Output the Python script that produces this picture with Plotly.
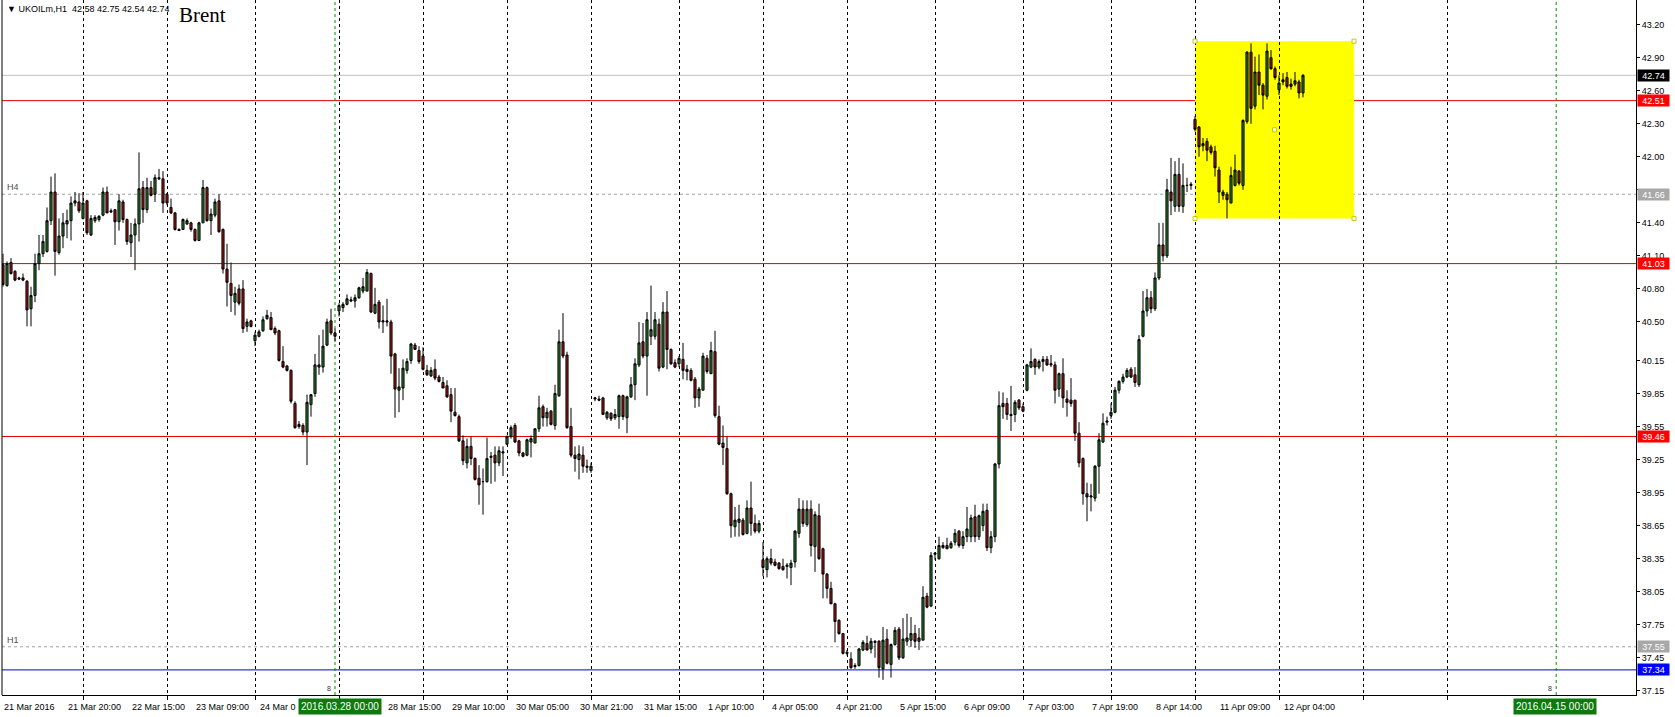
import plotly.graph_objects as go

# ---------------- data (UKOILm, H1) ----------------
opens = [
    41.02, 40.83, 41.04, 40.96, 40.90, 40.90, 40.87, 40.62, 40.74, 41.03,
    41.12, 41.14, 41.42, 41.68, 41.13, 41.28, 41.39, 41.42, 41.58, 41.59,
    41.44, 41.60, 41.29, 41.42, 41.43, 41.47, 41.68, 41.51, 41.52, 41.41,
    41.59, 41.43, 41.22, 41.29, 41.39, 41.72, 41.52, 41.72, 41.66, 41.81,
    41.80, 41.66, 41.54, 41.49, 41.34, 41.34, 41.39, 41.40, 41.34, 41.24,
    41.40, 41.72, 41.42, 41.47, 41.60, 41.34, 40.98, 40.85, 40.68, 40.80,
    40.80, 40.46, 40.51, 40.33, 40.37, 40.42, 40.53, 40.54, 40.44, 40.42,
    40.14, 40.10, 40.06, 39.76, 39.57, 39.56, 39.50, 39.75, 39.85, 40.09,
    40.09, 40.29, 40.51, 40.40, 40.60, 40.63, 40.66, 40.69, 40.69, 40.72,
    40.78, 40.78, 40.94, 40.58, 40.68, 40.50, 40.51, 40.50, 40.21, 39.88,
    39.90, 40.06, 40.15, 40.29, 40.24, 40.19, 40.06, 40.01, 40.07, 40.00,
    39.95, 39.92, 39.84, 39.68, 39.64, 39.42, 39.22, 39.37, 39.26, 39.08,
    39.05, 39.05, 39.27, 39.29, 39.22, 39.31, 39.39, 39.46, 39.56, 39.42,
    39.31, 39.29, 39.41, 39.40, 39.53, 39.73, 39.63, 39.69, 39.56, 39.83,
    40.32, 40.20, 39.55, 39.29, 39.25, 39.29, 39.19, 39.15, 39.80, 39.80,
    39.81, 39.63, 39.67, 39.63, 39.64, 39.83, 39.63, 39.82, 39.93, 40.11,
    40.32, 40.19, 40.37, 40.37, 40.48, 40.09, 40.59, 40.25, 40.13, 40.12,
    40.16, 40.07, 40.06, 39.98, 39.81, 39.88, 40.17, 40.03, 40.23, 39.64,
    39.40, 39.35, 38.94, 38.64, 38.68, 38.70, 38.58, 38.81, 38.67, 38.60,
    38.34, 38.25, 38.35, 38.32, 38.31, 38.28, 38.28, 38.27, 38.32, 38.58,
    38.80, 38.66, 38.80, 38.46, 38.74, 38.44, 38.21, 38.08, 37.94, 37.79,
    37.67, 37.50, 37.44, 37.38, 37.38, 37.52, 37.58, 37.53, 37.60, 37.60,
    37.35, 37.62, 37.39, 37.57, 37.71, 37.45, 37.60, 37.61, 37.67, 37.60,
    37.61, 38.01, 37.92, 38.39, 38.35, 38.45, 38.47, 38.45, 38.50, 38.60,
    38.47, 38.55, 38.55, 38.73, 38.55, 38.65, 38.79, 38.45, 38.55, 39.21,
    39.76, 39.76, 39.66, 39.66, 39.79, 39.73, 39.88, 40.09, 40.16, 40.09,
    40.14, 40.16, 40.11, 40.11, 39.89, 40.03, 39.80, 39.79, 39.79, 39.49,
    39.26, 38.94, 38.91, 38.90, 39.19, 39.41, 39.59, 39.65, 39.68, 39.88,
    39.96, 40.00, 40.07, 40.02, 39.93, 40.37, 40.60, 40.72, 40.62, 40.90,
    41.20, 41.10, 41.68, 41.55, 41.84, 41.55, 41.74, 41.74, 42.34, 42.27,
    42.10, 42.14, 42.09, 42.05, 41.88, 41.65, 41.66, 41.58, 41.74, 41.87,
    41.74, 42.32, 42.95, 42.46, 42.77, 42.65, 42.55, 42.90, 42.80, 42.61,
    42.68, 42.72, 42.66, 42.66, 42.68, 42.58,
]
highs = [
    41.12, 41.05, 41.08, 40.97, 40.91, 40.94, 40.88, 40.82, 41.12, 41.29,
    41.29, 41.54, 41.82, 41.85, 41.44, 41.49, 41.52, 41.64, 41.68, 41.67,
    41.68, 41.61, 41.47, 41.47, 41.47, 41.72, 41.73, 41.53, 41.52, 41.66,
    41.61, 41.44, 41.40, 41.44, 42.04, 41.78, 41.81, 41.78, 41.84, 41.89,
    41.87, 41.67, 41.62, 41.50, 41.35, 41.44, 41.44, 41.41, 41.35, 41.41,
    41.79, 41.73, 41.53, 41.62, 41.66, 41.35, 41.21, 41.04, 40.82, 40.84,
    40.88, 40.53, 40.52, 40.41, 40.43, 40.55, 40.61, 40.59, 40.46, 40.43,
    40.28, 40.11, 40.07, 39.78, 39.60, 39.58, 39.84, 39.84, 40.21, 40.38,
    40.43, 40.53, 40.62, 40.44, 40.67, 40.68, 40.75, 40.73, 40.75, 40.82,
    40.90, 40.98, 40.95, 40.81, 40.70, 40.65, 40.71, 40.52, 40.22, 40.08,
    40.16, 40.17, 40.31, 40.31, 40.28, 40.27, 40.11, 40.09, 40.16, 40.02,
    40.00, 39.97, 39.90, 39.90, 39.66, 39.47, 39.44, 39.46, 39.27, 39.20,
    39.17, 39.45, 39.32, 39.37, 39.37, 39.37, 39.47, 39.56, 39.58, 39.43,
    39.32, 39.44, 39.47, 39.53, 39.83, 39.75, 39.72, 39.70, 39.93, 40.43,
    40.58, 40.23, 39.72, 39.37, 39.38, 39.37, 39.25, 39.22, 39.82, 39.83,
    39.82, 39.69, 39.68, 39.71, 39.84, 39.84, 39.83, 40.00, 40.17, 40.50,
    40.49, 40.59, 40.83, 40.59, 40.53, 40.68, 40.78, 40.26, 40.16, 40.19,
    40.31, 40.11, 40.08, 40.00, 39.91, 40.22, 40.20, 40.32, 40.42, 39.74,
    39.56, 39.46, 38.95, 38.82, 38.84, 38.72, 38.88, 39.05, 38.75, 38.70,
    38.50, 38.37, 38.44, 38.35, 38.32, 38.35, 38.31, 38.34, 38.61, 38.90,
    38.88, 38.88, 38.88, 38.78, 38.85, 38.45, 38.22, 38.14, 37.95, 37.80,
    37.67, 37.52, 37.50, 37.40, 37.54, 37.61, 37.65, 37.63, 37.61, 37.61,
    37.73, 37.71, 37.58, 37.73, 37.73, 37.81, 37.85, 37.82, 37.75, 37.72,
    38.10, 38.04, 38.41, 38.41, 38.55, 38.50, 38.54, 38.51, 38.62, 38.61,
    38.60, 38.82, 38.75, 38.84, 38.75, 38.85, 38.85, 38.60, 39.22, 39.87,
    39.86, 39.81, 39.92, 39.79, 39.80, 39.76, 40.12, 40.26, 40.17, 40.16,
    40.19, 40.19, 40.20, 40.14, 40.04, 40.17, 39.88, 39.99, 39.79, 39.59,
    39.27, 39.04, 39.03, 39.20, 39.49, 39.67, 39.64, 39.76, 39.91, 39.97,
    40.03, 40.08, 40.09, 40.09, 40.38, 40.78, 40.80, 40.78, 40.95, 41.40,
    41.40, 41.80, 41.99, 41.96, 41.99, 41.94, 41.81, 41.77, 42.37, 42.28,
    42.17, 42.17, 42.11, 42.10, 41.91, 41.70, 41.68, 41.91, 42.02, 41.88,
    42.34, 42.96, 43.03, 42.91, 42.93, 42.67, 43.03, 42.97, 42.82, 42.74,
    42.76, 42.77, 42.71, 42.77, 42.70, 42.75,
]
lows = [
    40.82, 40.82, 40.93, 40.87, 40.88, 40.87, 40.46, 40.46, 40.68, 40.97,
    41.09, 41.13, 41.38, 40.92, 41.11, 41.17, 41.26, 41.24, 41.55, 41.49,
    41.43, 41.29, 41.28, 41.40, 41.41, 41.46, 41.49, 41.49, 41.20, 41.33,
    41.40, 41.20, 41.09, 40.97, 41.23, 41.40, 41.49, 41.64, 41.59, 41.79,
    41.49, 41.56, 41.48, 41.33, 41.33, 41.34, 41.38, 41.32, 41.23, 41.24,
    41.40, 41.41, 41.29, 41.45, 41.31, 40.94, 40.64, 40.59, 40.56, 40.65,
    40.40, 40.41, 40.45, 40.28, 40.36, 40.41, 40.52, 40.43, 40.38, 40.14,
    40.08, 40.05, 39.76, 39.53, 39.53, 39.47, 39.20, 39.64, 39.82, 40.02,
    40.04, 40.28, 40.38, 40.32, 40.55, 40.59, 40.65, 40.68, 40.63, 40.71,
    40.76, 40.78, 40.58, 40.57, 40.44, 40.40, 40.46, 40.03, 39.63, 39.68,
    39.79, 40.03, 40.12, 40.25, 40.12, 40.06, 40.01, 40.00, 39.97, 39.95,
    39.90, 39.81, 39.59, 39.64, 39.41, 39.20, 39.17, 39.20, 39.06, 38.84,
    38.75, 39.04, 39.03, 39.05, 39.19, 39.10, 39.38, 39.44, 39.40, 39.28,
    39.27, 39.28, 39.27, 39.40, 39.50, 39.55, 39.55, 39.56, 39.52, 39.82,
    40.17, 39.53, 39.27, 39.14, 39.07, 39.13, 39.13, 39.13, 39.78, 39.78,
    39.66, 39.61, 39.60, 39.61, 39.53, 39.61, 39.49, 39.81, 39.79, 40.09,
    40.17, 39.83, 40.29, 40.34, 40.05, 40.08, 40.07, 40.11, 40.08, 40.09,
    39.98, 39.97, 39.96, 39.72, 39.73, 39.88, 40.03, 40.03, 39.63, 39.38,
    39.20, 38.93, 38.54, 38.55, 38.55, 38.56, 38.57, 38.56, 38.58, 38.58,
    38.19, 38.18, 38.29, 38.28, 38.25, 38.24, 38.17, 38.11, 38.27, 38.54,
    38.64, 38.64, 38.37, 38.23, 38.34, 37.99, 37.99, 37.94, 37.59, 37.66,
    37.48, 37.47, 37.35, 37.35, 37.37, 37.51, 37.52, 37.49, 37.45, 37.27,
    37.25, 37.39, 37.27, 37.56, 37.43, 37.44, 37.56, 37.55, 37.54, 37.52,
    37.61, 37.90, 37.91, 38.34, 38.34, 38.44, 38.44, 38.44, 38.47, 38.45,
    38.44, 38.50, 38.50, 38.50, 38.52, 38.60, 38.42, 38.40, 38.50, 39.17,
    39.62, 39.61, 39.51, 39.59, 39.70, 39.68, 39.87, 40.08, 40.02, 40.07,
    40.05, 40.10, 40.09, 39.76, 39.82, 39.72, 39.64, 39.73, 39.42, 39.18,
    38.84, 38.69, 38.78, 38.87, 38.94, 39.40, 39.56, 39.62, 39.67, 39.85,
    39.94, 39.99, 39.99, 39.91, 39.91, 40.36, 40.55, 40.58, 40.60, 40.88,
    41.05, 41.08, 41.47, 41.50, 41.50, 41.49, 41.68, 41.70, 42.23, 42.00,
    42.05, 41.96, 42.02, 41.82, 41.58, 41.61, 41.44, 41.58, 41.73, 41.74,
    41.70, 42.30, 42.30, 42.43, 42.56, 42.43, 42.52, 42.79, 42.70, 42.56,
    42.65, 42.62, 42.61, 42.64, 42.53, 42.54,
]
closes = [
    40.84, 41.03, 40.94, 40.88, 40.89, 40.88, 40.61, 40.74, 41.03, 41.12,
    41.23, 41.42, 41.68, 41.14, 41.28, 41.40, 41.42, 41.58, 41.60, 41.51,
    41.58, 41.31, 41.44, 41.45, 41.46, 41.68, 41.49, 41.50, 41.41, 41.60,
    41.43, 41.23, 41.29, 41.39, 41.71, 41.52, 41.72, 41.65, 41.81, 41.80,
    41.58, 41.58, 41.49, 41.34, 41.33, 41.43, 41.42, 41.34, 41.24, 41.40,
    41.72, 41.42, 41.48, 41.59, 41.32, 40.98, 40.86, 40.74, 40.76, 40.67,
    40.44, 40.50, 40.46, 40.38, 40.41, 40.52, 40.56, 40.43, 40.40, 40.15,
    40.09, 40.06, 39.78, 39.54, 39.55, 39.50, 39.77, 39.84, 40.11, 40.11,
    40.28, 40.50, 40.40, 40.37, 40.65, 40.66, 40.71, 40.70, 40.72, 40.81,
    40.82, 40.95, 40.59, 40.66, 40.50, 40.51, 40.50, 40.19, 39.89, 39.91,
    40.08, 40.14, 40.30, 40.25, 40.14, 40.07, 40.02, 40.06, 39.99, 39.96,
    39.90, 39.82, 39.69, 39.65, 39.42, 39.24, 39.37, 39.26, 39.07, 39.02,
    39.05, 39.26, 39.28, 39.22, 39.33, 39.32, 39.46, 39.54, 39.41, 39.31,
    39.28, 39.43, 39.44, 39.53, 39.72, 39.63, 39.68, 39.57, 39.85, 40.32,
    40.19, 39.54, 39.29, 39.26, 39.30, 39.19, 39.18, 39.19, 39.81, 39.79,
    39.66, 39.68, 39.62, 39.66, 39.83, 39.64, 39.82, 39.93, 40.12, 40.31,
    40.19, 40.52, 40.43, 40.52, 40.08, 40.59, 40.25, 40.12, 40.09, 40.17,
    40.06, 40.05, 39.97, 39.81, 39.89, 40.19, 40.05, 40.24, 39.65, 39.39,
    39.36, 38.94, 38.65, 38.70, 38.71, 38.57, 38.81, 38.67, 38.60, 38.67,
    38.27, 38.35, 38.31, 38.29, 38.26, 38.25, 38.29, 38.31, 38.60, 38.80,
    38.67, 38.80, 38.47, 38.75, 38.35, 38.21, 38.08, 37.94, 37.78, 37.67,
    37.49, 37.49, 37.36, 37.37, 37.53, 37.59, 37.52, 37.60, 37.59, 37.36,
    37.61, 37.40, 37.57, 37.70, 37.45, 37.62, 37.63, 37.67, 37.60, 37.63,
    38.00, 37.91, 38.38, 38.40, 38.47, 38.47, 38.44, 38.49, 38.58, 38.47,
    38.55, 38.62, 38.72, 38.55, 38.74, 38.78, 38.45, 38.55, 39.21, 39.74,
    39.73, 39.66, 39.65, 39.77, 39.72, 39.69, 40.11, 40.14, 40.09, 40.14,
    40.16, 40.11, 40.12, 39.88, 40.03, 39.81, 39.77, 39.76, 39.49, 39.22,
    38.94, 38.91, 38.92, 39.19, 39.43, 39.58, 39.60, 39.68, 39.88, 39.96,
    40.00, 40.06, 40.00, 39.95, 40.34, 40.60, 40.72, 40.62, 40.90, 41.20,
    41.10, 41.70, 41.60, 41.84, 41.55, 41.74, 41.74, 41.75, 42.25, 42.09,
    42.12, 42.06, 42.04, 41.90, 41.68, 41.68, 41.61, 41.83, 41.88, 41.76,
    42.33, 42.95, 42.44, 42.77, 42.65, 42.56, 42.96, 42.80, 42.72, 42.67,
    42.70, 42.64, 42.64, 42.69, 42.58, 42.74,
]
assert len(opens) == len(highs) == len(lows) == len(closes) == 326

# time axis labels (bar index, text)
time_label_bars = [0, 16, 32, 48, 64, 96, 112, 128, 144, 160, 176, 192,
                   208, 224, 240, 256, 272, 288, 304, 320]
time_label_text = ["21 Mar 2016", "21 Mar 20:00", "22 Mar 15:00", "23 Mar 09:00",
                   "24 Mar 0", "28 Mar 15:00", "29 Mar 10:00", "30 Mar 05:00",
                   "30 Mar 21:00", "31 Mar 15:00", "1 Apr 10:00", "4 Apr 05:00",
                   "4 Apr 21:00", "5 Apr 15:00", "6 Apr 09:00", "7 Apr 03:00",
                   "7 Apr 19:00", "8 Apr 14:00", "11 Apr 09:00", "12 Apr 04:00"]
# day separators (vertical grid)
day_grid_bars = [20, 41, 63, 84, 105, 126, 147, 169, 190, 211, 233, 255,
                 277, 298, 319, 340, 361]
# price scale ticks (41.70 is hidden behind the 41.66 tag)
price_ticks = [43.20, 42.90, 42.60, 42.30, 42.00, 41.70, 41.40, 41.10, 40.80,
               40.50, 40.15, 39.85, 39.55, 39.25, 38.95, 38.65, 38.35, 38.05,
               37.75, 37.45, 37.15]
price_tick_text = ["43.20", "42.90", "42.60", "42.30", "42.00", "", "41.40", "41.10",
                   "40.80", "40.50", "40.15", "39.85", "39.55", "39.25", "38.95",
                   "38.65", "38.35", "38.05", "37.75", "37.45", "37.15"]
# horizontal levels
red_levels = [42.51, 41.03, 39.46]
gray_levels = [41.66, 37.55]
gray_level_names = ["H4", "H1"]
blue_levels = [37.34]
bid_price = 42.74
# vertical line objects (bar position, label position, label)
vline_bars = [83.0, 388.3]
vline_label_bars = [84.2, 387.9]
vline_labels = ["2016.03.28 00:00", "2016.04.15 00:00"]
# rectangle object
rect_x = [298.0, 337.75]
rect_y = [41.44, 43.05]

header_text = "\u25BC UKOILm,H1  42.58 42.75 42.54 42.74"

# ---------------- figure ----------------
W, H = 1675, 717
ML, MR, MT, MB = 2, 39, 0, 22
X_RANGE = [-0.25, 408.25]
Y_RANGE = [37.112, 43.424]
AX_FONT = "Liberation Sans, Arial, sans-serif"

fig = go.Figure()

fig.add_trace(go.Candlestick(
    x=list(range(len(opens))), open=opens, high=highs, low=lows, close=closes,
    increasing=dict(fillcolor="#2b7a2b", line=dict(color="#000000", width=1)),
    decreasing=dict(fillcolor="#a01818", line=dict(color="#000000", width=1)),
    whiskerwidth=0, hoverinfo="skip", showlegend=False,
))

# rectangle handles
hx = [rect_x[0], rect_x[0], rect_x[1], rect_x[1], (rect_x[0] + rect_x[1]) / 2]
hy = [rect_y[1], rect_y[0], rect_y[1], rect_y[0], (rect_y[0] + rect_y[1]) / 2]
fig.add_trace(go.Scatter(
    x=hx, y=hy, mode="markers", hoverinfo="skip", showlegend=False,
    marker=dict(symbol="square", size=4, color="#ffffff",
                line=dict(color="#c8c800", width=1)),
))

shapes = []
shapes.append(dict(type="line", xref="paper", x0=0, x1=1, yref="y", y0=bid_price, y1=bid_price,
                   line=dict(color="#c0c0c0", width=1), layer="below"))
for lv in gray_levels:
    shapes.append(dict(type="line", xref="paper", x0=0, x1=1, yref="y", y0=lv, y1=lv,
                       line=dict(color="#a0a0a0", width=1, dash="3px,3px"), layer="below"))
shapes.append(dict(type="rect", xref="x", x0=rect_x[0], x1=rect_x[1], yref="y",
                   y0=rect_y[0], y1=rect_y[1], fillcolor="#ffff00",
                   line=dict(width=0), layer="below"))
for lv in red_levels:
    shapes.append(dict(type="line", xref="paper", x0=0, x1=1, yref="y", y0=lv, y1=lv,
                       line=dict(color="#e00000", width=1), layer="below"))
for lv in blue_levels:
    shapes.append(dict(type="line", xref="paper", x0=0, x1=1, yref="y", y0=lv, y1=lv,
                       line=dict(color="#0000e0", width=1), layer="below"))
for vb in vline_bars:
    shapes.append(dict(type="line", xref="x", x0=vb, x1=vb, yref="paper", y0=0, y1=1,
                       line=dict(color="#009000", width=1, dash="3px,3px"), layer="below"))
shapes.append(dict(type="line", xref="paper", x0=0, x1=0, yref="paper", y0=0, y1=1,
                   line=dict(color="#000000", width=1)))

annotations = []
annotations.append(dict(text=header_text, xref="paper", x=0, xanchor="left", xshift=3,
                        yref="paper", y=1, yanchor="top", yshift=-2, showarrow=False,
                        font=dict(family=AX_FONT, size=9, color="#000000")))
annotations.append(dict(text="Brent", xref="paper", x=(177 - ML) / (W - ML - MR), xanchor="left",
                        yref="paper", y=1, yanchor="top", yshift=-1, showarrow=False,
                        font=dict(family="Liberation Serif, Times New Roman, serif", size=21,
                                  color="#000000")))
for lv, nm in zip(gray_levels, gray_level_names):
    annotations.append(dict(text=nm, xref="paper", x=0, xanchor="left", xshift=3,
                            yref="y", y=lv, yanchor="bottom", yshift=0, showarrow=False,
                            font=dict(family=AX_FONT, size=9, color="#505050")))

def price_tag(value, bg, fg="#ffffff"):
    return dict(text="%.2f" % value, xref="paper", x=1, xanchor="left", xshift=1,
                yref="y", y=value, yanchor="middle", showarrow=False,
                bgcolor=bg, borderpad=0, width=31, height=11, align="center",
                font=dict(family=AX_FONT, size=9, color=fg))

annotations.append(price_tag(bid_price, "#000000"))
for lv in red_levels:
    annotations.append(price_tag(lv, "#ff0000"))
for lv in gray_levels:
    annotations.append(price_tag(lv, "#a8a8a8"))
for lv in blue_levels:
    annotations.append(price_tag(lv, "#0000ff"))

for b, t in zip(time_label_bars, time_label_text):
    annotations.append(dict(text=t, xref="x", x=b, xanchor="left", xshift=-1,
                            yref="paper", y=0, yanchor="top", yshift=-5, showarrow=False,
                            font=dict(family=AX_FONT, size=9, color="#000000")))
for lb, t in zip(vline_label_bars, vline_labels):
    annotations.append(dict(text=t, xref="x", x=lb, xanchor="center",
                            yref="paper", y=0, yanchor="top", yshift=-3, showarrow=False,
                            bgcolor="#0e7a0e", borderpad=2,
                            font=dict(family=AX_FONT, size=10, color="#ffffff")))
# small anchor marks of the vertical line objects
for vb in vline_bars:
    annotations.append(dict(text="8", xref="x", x=vb - 1.5, xanchor="center",
                            yref="paper", y=0, yanchor="bottom", yshift=1, showarrow=False,
                            font=dict(family=AX_FONT, size=7, color="#303030")))

fig.update_layout(
    width=W, height=H,
    margin=dict(l=ML, r=MR, t=MT, b=MB, pad=0),
    paper_bgcolor="#ffffff", plot_bgcolor="#ffffff",
    showlegend=False, boxgap=0.25,
    shapes=shapes, annotations=annotations,
    xaxis=dict(range=X_RANGE, type="linear", rangeslider=dict(visible=False),
               tickmode="array", tickvals=day_grid_bars, showticklabels=False,
               ticks="outside", ticklen=4, tickcolor="#000000",
               showgrid=True, gridcolor="#000000", gridwidth=1, griddash="3px,3px",
               zeroline=False, showline=True, linecolor="#000000", linewidth=1,
               fixedrange=True),
    yaxis=dict(range=Y_RANGE, side="right", tickmode="array", tickvals=price_ticks,
               ticktext=price_tick_text,
               ticks="outside", ticklen=3, tickcolor="#000000",
               tickfont=dict(family=AX_FONT, size=9, color="#000000"),
               showgrid=False, zeroline=False, showline=True, linecolor="#000000",
               linewidth=1, fixedrange=True),
)

fig.write_html("out.html",
               config={"displayModeBar": False, "staticPlot": True},
               post_script="document.body.style.margin='0px';"
                           "document.body.style.overflow='hidden';")
